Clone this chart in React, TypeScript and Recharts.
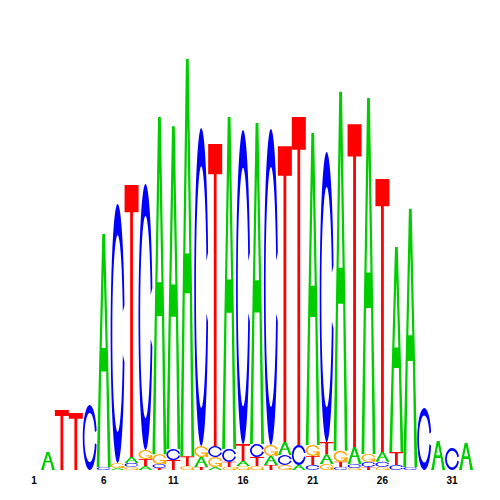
import { BarChart, Bar, XAxis, YAxis } from 'recharts';

const positions = [1, 2, 3, 4, 5, 6, 7, 8, 9, 10, 11, 12, 13, 14, 15, 16, 17, 18, 19, 20, 21, 22, 23, 24, 25, 26, 27, 28, 29, 30, 31];

const heightA = [0.082, 0, 0, 0, 1.059, 0.009, 0.027, 0.018, 1.532, 1.468, 1.805, 0.045, 0.014, 1.509, 0.023, 1.459, 0.041, 0.059, 0.023, 1.418, 0.045, 1.632, 0.077, 1.618, 0.045, 0.932, 1.173, 0, 0.132, 0, 0.123];
const heightC = [0, 0, 0, 0.295, 0.014, 1.177, 0.018, 1.209, 0.018, 0.05, 0, 1.445, 0.05, 0.059, 1.427, 0.059, 1.436, 0.045, 0.091, 0.023, 1.318, 0.014, 0.018, 0.023, 0.023, 0.023, 0.014, 0.282, 0, 0.1, 0];
const heightG = [0, 0, 0, 0, 0, 0.023, 0.014, 0.041, 0.045, 0, 0.018, 0.05, 0.045, 0.014, 0.018, 0.018, 0.05, 0.023, 0, 0.05, 0.027, 0.05, 0.009, 0.036, 0.014, 0, 0, 0, 0, 0, 0];
const heightT = [0, 0.273, 0.259, 0, 0, 0, 1.236, 0.032, 0.009, 0.045, 0.045, 0.014, 1.373, 0.023, 0.077, 0.041, 0.023, 1.345, 1.491, 0.041, 0.055, 0.023, 1.468, 0.014, 1.241, 0.059, 0, 0, 0, 0, 0];

const tickValues = [0, 5, 10, 15, 20, 25, 30];

const bases = ['A', 'C', 'G', 'T'];
const heights: Record<string, number[]> = { A: heightA, C: heightC, G: heightG, T: heightT };
const colors: Record<string, string> = { A: '#00CC00', C: '#0000FF', G: '#FFA500', T: '#FF0000' };

// each position stacked smallest -> largest, slot k holds the k-th letter
const logoData = positions.map((pos, i) => {
  const stack = bases
    .map((b) => ({ b, h: heights[b][i] }))
    .filter((s) => s.h > 0)
    .sort((a, b) => a.h - b.h);
  const row: Record<string, number | string> = { pos };
  for (let k = 0; k < 4; k++) {
    row[`h${k}`] = stack[k] ? stack[k].h : 0;
    row[`l${k}`] = stack[k] ? stack[k].b : '';
  }
  return row;
});

// glyph outlines in a 100x100 box
const ALPHA = 0.22;
const R_IN = 38;
const ox = 50 + 50 * Math.cos(ALPHA);
const oy = 50 * Math.sin(ALPHA);
const ix = 50 + R_IN * Math.cos(ALPHA);
const iy = R_IN * Math.sin(ALPHA);
const C_PATH = `M${ox},${50 - oy} A50,50 0 1 0 ${ox},${50 + oy} L${ix},${50 + iy} A${R_IN},${R_IN} 0 1 1 ${ix},${50 - iy} Z`;
const G_BAR = `M${ox},60 L50,60 L50,70 L${ox - 20},70 L${ox - 20},100 L${ox},100 Z`;
const A_PATH = 'M0,100 L40,0 L60,0 L100,100 L80,100 L68,59 L32,59 L20,100 Z M36,49 L50,16 L64,49 Z';
const T_PATH = 'M0,0 L100,0 L100,10 L60,10 L60,100 L40,100 L40,10 L0,10 Z';

function Glyph(props: any) {
  const { x, y, width, height, letter } = props;
  if (!letter || !height || height <= 0) return <g />;
  const t = `translate(${x},${y}) scale(${width / 100},${height / 100})`;
  const fill = colors[letter];
  if (letter === 'A') return <path d={A_PATH} transform={t} fill={fill} fillRule="evenodd" />;
  if (letter === 'T') return <path d={T_PATH} transform={t} fill={fill} />;
  if (letter === 'C') return <path d={C_PATH} transform={t} fill={fill} />;
  return (
    <g transform={t} fill={fill}>
      <path d={C_PATH} />
      <path d={G_BAR} />
    </g>
  );
}

export default function App() {
  return (
    <div style={{ position: 'absolute', left: 0, top: 0, background: '#fff' }}>
      <BarChart
        width={500}
        height={500}
        data={logoData}
        margin={{ top: 30, right: 27, left: 27, bottom: 0 }}
        barCategoryGap={0}
        barGap={0}
      >
        <XAxis
          type="number"
          dataKey="pos"
          domain={[-0.5, 31.5]}
          ticks={tickValues}
          tickFormatter={(v) => `${v + 1}`}
          axisLine={false}
          tickLine={false}
          tickSize={0}
          tickMargin={7}
          height={30}
          interval={0}
          tick={{ fontSize: 10, fontWeight: 'bold', fill: '#000', fontFamily: 'Liberation Sans' }}
        />
        <YAxis hide type="number" domain={[0, 2]} />
        {[0, 1, 2, 3].map((k) => (
          <Bar
            key={k}
            dataKey={`h${k}`}
            stackId="logo"
            isAnimationActive={false}
            shape={(p: any) => <Glyph {...p} letter={p.payload[`l${k}`]} />}
          />
        ))}
      </BarChart>
    </div>
  );
}
